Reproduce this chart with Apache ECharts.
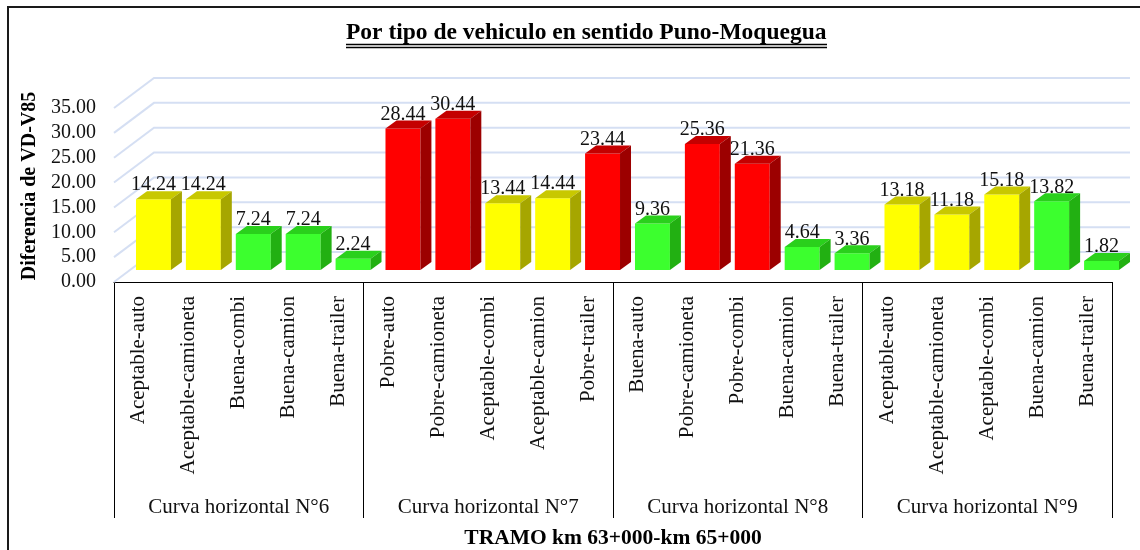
<!DOCTYPE html>
<html lang="es">
<head>
  <meta charset="UTF-8">
  <title>Por tipo de vehiculo en sentido Puno-Moquegua</title>
  <script src="https://cdn.jsdelivr.net/npm/echarts/dist/echarts.min.js"></script>
  <style>
    html, body { margin: 0; padding: 0; background: #fff; overflow: hidden; }
    #chart { width: 1140px; height: 550px; }
  </style>
</head>
<body>
  <div id="chart"></div>

  <script>
    // datos
    const categorias = [
      'Aceptable-auto', 'Aceptable-camioneta', 'Buena-combi', 'Buena-camion', 'Buena-trailer',
      'Pobre-auto', 'Pobre-camioneta', 'Aceptable-combi', 'Aceptable-camion', 'Pobre-trailer',
      'Buena-auto', 'Pobre-camioneta', 'Pobre-combi', 'Buena-camion', 'Buena-trailer',
      'Aceptable-auto', 'Aceptable-camioneta', 'Aceptable-combi', 'Buena-camion', 'Buena-trailer'
    ];
    const valores = [
      14.24, 14.24, 7.24, 7.24, 2.24,
      28.44, 30.44, 13.44, 14.44, 23.44,
      9.36, 25.36, 21.36, 4.64, 3.36,
      13.18, 11.18, 15.18, 13.82, 1.82
    ];
    const curvas = ['Curva horizontal N°6', 'Curva horizontal N°7', 'Curva horizontal N°8', 'Curva horizontal N°9'];
    const ticksY = [0, 5, 10, 15, 20, 25, 30, 35];

    // colores por calificacion: cara frontal, tapa, lateral
    const colores = {
      Aceptable: ['#ffff00', '#c8c800', '#a6a600'],
      Buena: ['#3cff2e', '#2ad01c', '#22b012'],
      Pobre: ['#ff0000', '#c40000', '#9c0000']
    };

    const FUENTE = 'Liberation Serif';
    const OFF_X = 14.5, OFF_Y = -12;   // desplazamiento de la barra hacia el fondo
    const PROF_X = 11, PROF_Y = 8;     // profundidad de la barra
    const PARED_X = 40, PARED_Y = 30;  // pared del fondo

    const datosBarras = valores.map((v, i) => [i, v, categorias[i].split('-')[0]]);

    function dibujarBarra(params, api) {
      const i = api.value(0);
      const v = api.value(1);
      const col = colores[datosBarras[params.dataIndex][2]];
      const base = api.coord([i, 0]);
      const cima = api.coord([i, v]);
      const w = api.size([1, 0])[0] * 0.7;
      const x = base[0] + OFF_X - w / 2;
      const yb = base[1] + OFF_Y;
      const yt = cima[1] + OFF_Y;
      return {
        type: 'group',
        children: [
          { type: 'rect', shape: { x: x, y: yt, width: w, height: yb - yt }, style: { fill: col[0] } },
          { type: 'polygon', shape: { points: [[x, yt], [x + PROF_X, yt - PROF_Y], [x + w + PROF_X, yt - PROF_Y], [x + w, yt]] }, style: { fill: col[1] } },
          { type: 'polygon', shape: { points: [[x + w, yt], [x + w + PROF_X, yt - PROF_Y], [x + w + PROF_X, yb - PROF_Y], [x + w, yb]] }, style: { fill: col[2] } },
          {
            type: 'text',
            style: {
              text: v.toFixed(2), x: x + w / 2, y: yt - PROF_Y + 4,
              align: 'center', verticalAlign: 'bottom',
              font: '20px "' + FUENTE + '"', fill: '#111'
            }
          }
        ]
      };
    }

    function dibujarPared(params, api) {
      const y = api.coord([0, api.value(1)])[1];
      const x0 = params.coordSys.x;
      const x1 = params.coordSys.x + params.coordSys.width + 18;
      return {
        type: 'polyline',
        shape: { points: [[x0, y], [x0 + PARED_X, y - PARED_Y], [x1, y - PARED_Y]] },
        style: { stroke: '#d5dff3', lineWidth: 2, fill: null }
      };
    }

    const chart = echarts.init(document.getElementById('chart'));

    const option = {
      backgroundColor: '#fff',
      animation: false,
      title: {
        text: 'Por tipo de vehiculo en sentido Puno-Moquegua',
        left: 346, top: 21, padding: 0,
        textStyle: { fontFamily: FUENTE, fontSize: 23.5, fontWeight: 'bold', color: '#000' }
      },
      graphic: [
        { type: 'rect', shape: { x: 8, y: 7, width: 1200, height: 600 }, style: { fill: null, stroke: '#1a1a1a', lineWidth: 2 } },
        { type: 'line', shape: { x1: 346, y1: 44.5, x2: 827, y2: 44.5 }, style: { stroke: '#000', lineWidth: 1.5 } },
        { type: 'line', shape: { x1: 346, y1: 47.5, x2: 827, y2: 47.5 }, style: { stroke: '#000', lineWidth: 1.5 } }
      ],
      grid: { left: 114, right: 28, top: 108, bottom: 263 },
      xAxis: [
        {
          type: 'category',
          data: categorias,
          position: 'bottom',
          axisLine: { show: true, lineStyle: { color: '#000', width: 1 } },
          axisTick: { show: false },
          axisLabel: {
            interval: 0, rotate: 90, margin: 14,
            fontFamily: FUENTE, fontSize: 21, color: '#111'
          }
        },
        {
          type: 'category',
          data: curvas,
          position: 'bottom',
          offset: 236,
          axisLine: { show: false },
          axisTick: { show: true, inside: true, length: 236, lineStyle: { color: '#000', width: 1 } },
          axisLabel: { interval: 0, inside: true, margin: 0, fontFamily: FUENTE, fontSize: 21, color: '#111' },
          name: 'TRAMO km 63+000-km 65+000',
          nameLocation: 'middle',
          nameGap: 9,
          nameTextStyle: { fontFamily: FUENTE, fontSize: 21.5, fontWeight: 'bold', color: '#000' }
        }
      ],
      yAxis: {
        type: 'value',
        min: 0, max: 35, interval: 5,
        axisLine: { show: false },
        axisTick: { show: false },
        splitLine: { show: false },
        axisLabel: {
          margin: 18, fontFamily: FUENTE, fontSize: 20, color: '#111',
          formatter: v => v.toFixed(2)
        },
        name: 'Diferencia de VD-V85',
        nameLocation: 'middle',
        nameGap: 64,
        nameTextStyle: { fontFamily: FUENTE, fontSize: 20, fontWeight: 'bold', color: '#000', padding: [0, 0, 0, 18] }
      },
      series: [
        {
          type: 'custom',
          name: 'pared',
          xAxisIndex: 0,
          silent: true,
          renderItem: dibujarPared,
          data: ticksY.map(t => [0, t])
        },
        {
          type: 'custom',
          name: 'Diferencia',
          xAxisIndex: 0,
          renderItem: dibujarBarra,
          encode: { x: 0, y: 1 },
          data: datosBarras
        }
      ]
    };

    chart.setOption(option);
  </script>
</body>
</html>
